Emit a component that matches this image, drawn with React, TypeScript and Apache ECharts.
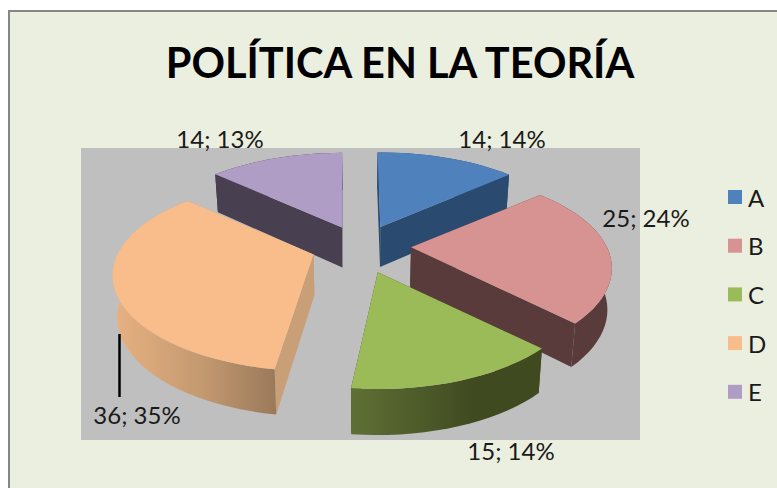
import React, { useEffect, useRef } from "react";
import * as echarts from "echarts";

const categories = ["A", "B", "C", "D", "E"];
const values = [14, 25, 15, 36, 14];
const percents = [14, 24, 14, 35, 13];
const topColors = ["#4f81bd", "#d79292", "#9bbb59", "#f8bd8b", "#b09dc5"];
const wallColors = ["#2a4a70", "#5a3b3b", "#3f4a20", "#c99f78", "#483f50"];
const rimStops = [
  [["#2a4a70", 0], ["#2a4a70", 1]],
  [["#5a3b3b", 0], ["#5a3b3b", 1]],
  [["#5f7035", 0], ["#3f4a20", 0.65], ["#3f4a20", 1]],
  [["#e8b182", 0], ["#c39970", 0.55], ["#9a795a", 1]],
  [["#483f50", 0], ["#483f50", 1]],
];
const paintOrder = [2, 4, 5, 3, 1]; // z of each slice, back to front
const labelPositions = [[502, 138], [646, 217], [511, 450], [137, 414], [220, 138]];
const apexNudge = [[-1, -1], [0, -2], [-1, 2], [-3, -3], [1, -1]];
// small angular corrections for the 3D projection: [start, end] in degrees
const angleTrim = [[0, 1.3], [1.5, 1], [1, 0.2], [3, 2], [1.5, 1]];

const FONT = "Lato, 'Open Sans', sans-serif";
const total = values.reduce((a, b) => a + b, 0);
const CX = 362, CY = 249, SX = 196, SY = 91, PERSP = 0.22, EXPLODE = 0.25, START = -1;

function sliceAngles(i: number) {
  let before = 0;
  for (let k = 0; k < i; k++) before += values[k];
  const a = START + (before / total) * 360;
  return [a, a + (values[i] / total) * 360];
}
const rad = (d: number) => (d * Math.PI) / 180;
function rimPoint(ax: number, ay: number, deg: number) {
  const s = Math.sin(rad(deg)), c = Math.cos(rad(deg));
  const p = 1 / (1 + PERSP * c);
  return [ax + SX * s * p, ay - SY * c * p];
}
function lower(pt: number[]) {
  return [CX + (pt[0] - CX) * 0.982, pt[1] + 40 + (pt[1] - 227) * 0.037];
}

function renderSlice(i: number) {
  const [base0, base1] = sliceAngles(i);
  const a0 = base0 + angleTrim[i][0];
  const a1 = base1 + angleTrim[i][1];
  const mid = rad((base0 + base1) / 2);
  const ax = CX + SX * EXPLODE * Math.sin(mid) + apexNudge[i][0];
  const ay = CY - SY * EXPLODE * Math.cos(mid) + apexNudge[i][1];
  const apex = [ax, ay];
  const rim: number[][] = [];
  const steps = Math.max(4, Math.ceil((a1 - a0) / 3));
  for (let k = 0; k <= steps; k++) rim.push(rimPoint(ax, ay, a0 + ((a1 - a0) * k) / steps));
  const first = rim[0], last = rim[rim.length - 1];
  const wall = (pt: number[]) => ({
    type: "polygon",
    shape: { points: [apex, pt, lower(pt), lower(apex)] },
    style: { fill: wallColors[i] },
  });
  return {
    type: "group",
    children: [
      wall(first),
      wall(last),
      {
        type: "polygon",
        shape: { points: [...rim, ...rim.map(lower).reverse()] },
        style: {
          fill: {
            type: "linear", x: 0, y: 0, x2: 1, y2: 0,
            colorStops: rimStops[i].map((s: any) => ({ color: s[0], offset: s[1] })),
          },
        },
      },
      {
        type: "polygon",
        shape: { points: [apex, ...rim] },
        style: { fill: topColors[i] },
      },
    ],
  };
}

export default function App() {
  const ref = useRef<HTMLDivElement>(null);
  useEffect(() => {
    const chart = echarts.init(ref.current!, null, { renderer: "svg" });
    chart.setOption({
      animation: false,
      backgroundColor: "#ffffff",
      title: {
        text: "POLÍTICA EN LA TEORÍA",
        left: 395,
        top: 36,
        textAlign: "center",
        textStyle: { fontFamily: FONT, fontSize: 41.5, fontWeight: "bold", color: "#000000" },
      },
      legend: {
        orient: "vertical",
        left: 728,
        top: 185,
        padding: 0,
        itemWidth: 14,
        itemHeight: 14,
        itemGap: 24.7,
        icon: "rect",
        data: categories,
        textStyle: { fontFamily: FONT, fontSize: 24, color: "#1a1a1a", padding: [0, 0, 0, 1] },
      },
      graphic: [
        {
          type: "rect", z: -3, silent: true,
          shape: { x: 9, y: 11, width: 800, height: 500 },
          style: { fill: "#ebefdf", stroke: "#868686", lineWidth: 2 },
        },
        {
          type: "rect", z: -2, silent: true,
          shape: { x: 81, y: 148, width: 559, height: 292 },
          style: { fill: "#bfbfbf" },
        },
        {
          type: "line", z: 50, silent: true,
          shape: { x1: 119.5, y1: 334, x2: 119.5, y2: 397 },
          style: { stroke: "#000000", lineWidth: 2.5 },
        },
        ...categories.map((_, i) => ({
          type: "text", z: 51, silent: true,
          x: labelPositions[i][0], y: labelPositions[i][1],
          style: {
            text: `${values[i]}; ${percents[i]}%`,
            fontFamily: FONT, fontSize: 24, fill: "#1a1a1a",
            align: "center", verticalAlign: "middle",
          },
        })),
      ],
      series: categories.map((name, i) => ({
        type: "custom",
        name,
        coordinateSystem: "none",
        z: 2 + paintOrder[i],
        itemStyle: { color: topColors[i] },
        data: [values[i]],
        renderItem: () => renderSlice(i),
      })),
    });
    return () => chart.dispose();
  }, []);
  return <div ref={ref} style={{ position: "fixed", left: 0, top: 0, width: 777, height: 488 }} />;
}
